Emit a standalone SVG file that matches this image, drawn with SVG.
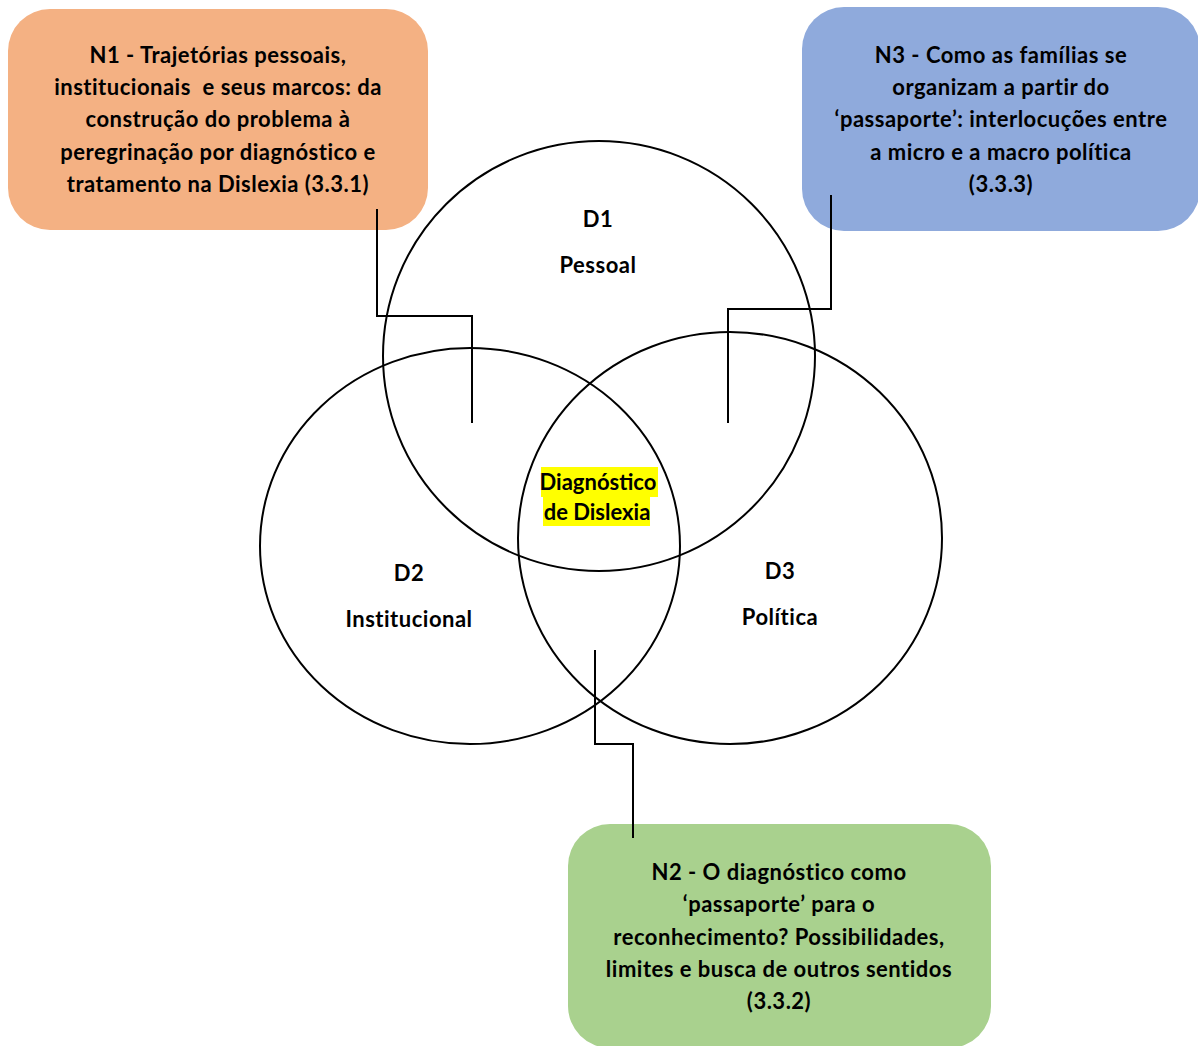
<svg xmlns="http://www.w3.org/2000/svg" width="1198" height="1046" viewBox="0 0 1198 1046">
<style>
.t{font-family:Lato,"Liberation Sans",sans-serif;font-weight:bold;font-size:22px;letter-spacing:0.5px;fill:#000;text-anchor:middle}
.m{letter-spacing:0}
.c{fill:none;stroke:#000;stroke-width:2}
.k{fill:none;stroke:#000;stroke-width:2}
</style>
<rect width="1198" height="1046" fill="#fff"/>
<g id="D2"><ellipse class="c" cx="470" cy="546" rx="210" ry="198"/>
<text class="t" x="409" y="581">D2</text><text class="t" x="409" y="627">Institucional</text></g>
<g id="D3"><ellipse class="c" cx="730" cy="538" rx="212" ry="206"/>
<text class="t" x="780" y="579">D3</text><text class="t" x="780" y="625">Política</text></g>
<g id="D1"><ellipse class="c" cx="599" cy="356" rx="216" ry="215"/>
<text class="t" x="598" y="227">D1</text><text class="t" x="598" y="273">Pessoal</text></g>
<g id="center">
<rect x="541" y="467" width="117" height="30" fill="#ffff00"/>
<rect x="543" y="496" width="107" height="30" fill="#ffff00"/>
<text class="t m" x="598" y="490">Diagnóstico</text><text class="t m" x="597" y="520">de Dislexia</text></g>
<g id="N1"><rect x="8" y="9" width="420" height="221" rx="42" fill="#F4B183"/>
<text class="t" x="218" y="63">N1 - Trajetórias pessoais,</text>
<text class="t" x="218" y="95" xml:space="preserve">institucionais  e seus marcos: da</text>
<text class="t" x="218" y="127">construção do problema à</text>
<text class="t" x="218" y="160">peregrinação por diagnóstico e</text>
<text class="t" x="218" y="192">tratamento na Dislexia (3.3.1)</text></g>
<g id="N3"><rect x="802" y="7" width="398" height="224" rx="42" fill="#8FAADC"/>
<text class="t" x="1001" y="63">N3 - Como as famílias se</text>
<text class="t" x="1001" y="95">organizam a partir do</text>
<text class="t" x="1001" y="127">‘passaporte’: interlocuções entre</text>
<text class="t" x="1001" y="160">a micro e a macro política</text>
<text class="t" x="1001" y="192">(3.3.3)</text></g>
<g id="N2"><rect x="568" y="824" width="423" height="224" rx="42" fill="#A9D18E"/>
<text class="t" x="779" y="880">N2 - O diagnóstico como</text>
<text class="t" x="779" y="912">‘passaporte’ para o</text>
<text class="t" x="779" y="945">reconhecimento? Possibilidades,</text>
<text class="t" x="779" y="977">limites e busca de outros sentidos</text>
<text class="t" x="779" y="1009">(3.3.2)</text></g>
<g id="connectors">
<polyline class="k" points="377,209 377,316 472,316 472,423"/>
<polyline class="k" points="831,195 831,309 728,309 728,423"/>
<polyline class="k" points="595,650 595,744 633,744 633,838"/>
</g>
</svg>
